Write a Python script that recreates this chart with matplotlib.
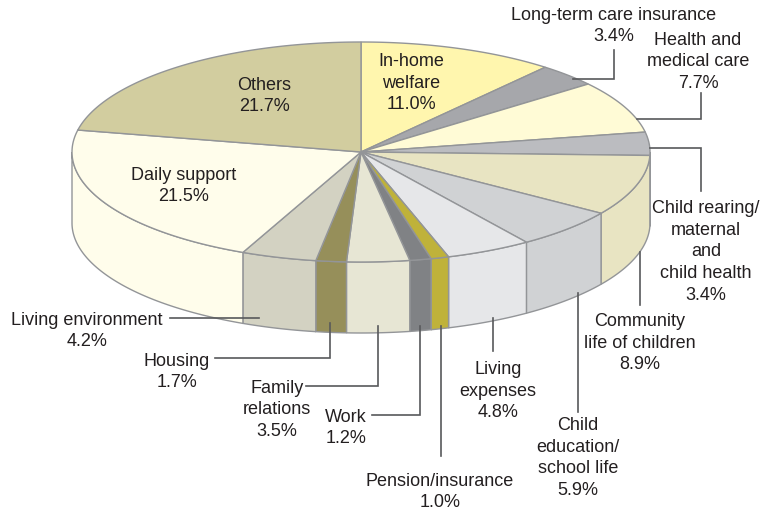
import numpy as np
import matplotlib
matplotlib.use("Agg")
import matplotlib.pyplot as plt

plt.rcParams['font.family'] = ['Liberation Sans', 'DejaVu Sans']

categories = ["In-home welfare", "Long-term care insurance", "Health and medical care",
              "Child rearing/maternal and child health", "Community life of children",
              "Child education/school life", "Living expenses", "Pension/insurance", "Work",
              "Family relations", "Housing", "Living environment", "Daily support", "Others"]
values = [11.0, 3.4, 7.7, 3.4, 8.9, 5.9, 4.8, 1.0, 1.2, 3.5, 1.7, 4.2, 21.5, 21.7]
colors = ["#FFF6AE", "#A6A7AB", "#FFFBD6", "#BBBCC0", "#E8E4C2", "#D0D2D4", "#E6E7E9",
          "#BFB23A", "#808285", "#E7E6D4", "#968F5A", "#D3D2C2", "#FFFDEB", "#D2CD9F"]

label_texts = ["In-home\nwelfare\n11.0%", "Long-term care insurance\n3.4%", "Health and\nmedical care\n7.7%",
               "Child rearing/\nmaternal\nand\nchild health\n3.4%", "Community\nlife of children\n8.9%",
               "Child\neducation/\nschool life\n5.9%", "Living\nexpenses\n4.8%", "Pension/insurance\n1.0%",
               "Work\n1.2%", "Family\nrelations\n3.5%", "Housing\n1.7%", "Living environment\n4.2%",
               "Daily support\n21.5%", "Others\n21.7%"]
label_pos = [(411, 83), (614, 26), (698, 62), (706, 252), (640, 343), (578, 458), (498, 391),
             (440, 492), (346, 428), (277, 410), (177, 372), (87, 331), (184, 186), (264, 96)]

leaders = [
    [(573, 79), (614, 79), (614, 50)],
    [(637, 119), (701, 119), (701, 93)],
    [(650, 148), (701, 148), (701, 191)],
    [(640, 252), (640, 305)],
    [(578, 293), (578, 412)],
    [(493, 318), (493, 351)],
    [(441, 326), (441, 456)],
    [(420, 326), (420, 415), (372, 415)],
    [(378, 326), (378, 386), (306, 386)],
    [(330, 323), (330, 358), (215, 358)],
    [(259, 318), (170, 318)],
]

CX, CY, A, B, DEPTH = 361, 152, 289, 110, 71
EDGE = "#939598"

fig = plt.figure(figsize=(7.69, 5.13), dpi=100)
ax = fig.add_axes([0, 0, 1, 1])
ax.set_xlim(0, 769)
ax.set_ylim(513, 0)
ax.axis("off")


def arc(t0, t1, dy=0.0):
    t = np.linspace(t0, t1, max(int(abs(t1 - t0) * 120), 2))
    return CX + A * np.sin(t), CY - B * np.cos(t) + dy


edges = np.concatenate([[0], np.cumsum(values)]) / 100 * 2 * np.pi
edges[-1] = 2 * np.pi  # the printed shares add to 99.9; the last slice closes the pie

# side walls (only the front half is visible)
for i, c in enumerate(colors):
    t0, t1 = max(edges[i], np.pi / 2), min(edges[i + 1], 3 * np.pi / 2)
    if t1 <= t0:
        continue
    x, y = arc(t0, t1)
    xb, yb = arc(t0, t1, DEPTH)
    ax.fill(np.r_[x, xb[::-1]], np.r_[y, yb[::-1]], facecolor=c, edgecolor=EDGE, lw=1.0, zorder=2)

# top faces
for i, c in enumerate(colors):
    x, y = arc(edges[i], edges[i + 1])
    ax.fill(np.r_[CX, x], np.r_[CY, y], facecolor=c, edgecolor=EDGE, lw=1.0, zorder=3)

for pts in leaders:
    xs, ys = zip(*pts)
    ax.plot(xs, ys, color="#58595B", lw=1.2, zorder=4, solid_joinstyle="miter")

for txt, (x, y) in zip(label_texts, label_pos):
    ax.text(x, y, txt, ha="center", va="center", fontsize=13, color="#231F20",
            linespacing=1.35, zorder=5)

fig.savefig("out.png", dpi=100)
